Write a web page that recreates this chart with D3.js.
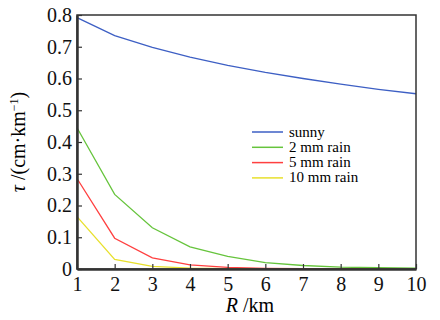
<!DOCTYPE html>
<html>
<head>
<meta charset="utf-8">
<script src="https://cdn.jsdelivr.net/npm/d3@7"></script>
<style>
  body { margin: 0; background: #fff; }
  svg text { font-family: "Liberation Serif", serif !important; }
</style>
</head>
<body>
<svg id="chart" width="440" height="320" style="font-family: 'Liberation Serif', serif"></svg>
<script>
var distances = [1, 2, 3, 4, 5, 6, 7, 8, 9, 10];
var sunny  = [0.792, 0.735, 0.698, 0.667, 0.641, 0.619, 0.600, 0.582, 0.566, 0.552];
var rain2  = [0.445, 0.235, 0.130, 0.070, 0.040, 0.020, 0.011, 0.006, 0.004, 0.003];
var rain5  = [0.285, 0.097, 0.035, 0.013, 0.005, 0.002, 0.001, 0.001, 0.000, 0.000];
var rain10 = [0.165, 0.030, 0.008, 0.003, 0.001, 0.000, 0.000, 0.000, 0.000, 0.000];
var seriesNames = ["sunny", "2 mm rain", "5 mm rain", "10 mm rain"];
var colors = ["#3d5fc4", "#66c43c", "#ff4040", "#e8e02c"];
var yTicks = [0, 0.1, 0.2, 0.3, 0.4, 0.5, 0.6, 0.7, 0.8];

var width = 440, height = 320;
var margin = {top: 15, right: 24, bottom: 51, left: 77};

var svg = d3.select("#chart");

var x = d3.scaleLinear().domain([1, 10]).range([margin.left, width - margin.right]);
var y = d3.scaleLinear().domain([0, 0.8]).range([height - margin.bottom, margin.top]);

var allSeries = [sunny, rain2, rain5, rain10];
var line = d3.line()
    .x(function(d, i) { return x(distances[i]); })
    .y(function(d) { return y(d); });

// lines, drawn back to front
for (var s = allSeries.length - 1; s >= 0; s--) {
  svg.append("path")
    .datum(allSeries[s])
    .attr("fill", "none")
    .attr("stroke", colors[s])
    .attr("stroke-width", 1.3)
    .attr("d", line);
}

// frame
svg.append("rect")
  .attr("x", x(1)).attr("y", y(0.8))
  .attr("width", x(10) - x(1)).attr("height", y(0) - y(0.8))
  .attr("fill", "none").attr("stroke", "#333").attr("stroke-width", 1.5);

var xAxis = d3.axisBottom(x).tickValues(distances).tickSizeInner(-5).tickSizeOuter(0).tickPadding(8);
var gx = svg.append("g")
  .attr("transform", "translate(0," + y(0) + ")")
  .call(xAxis)
  .attr("font-family", null)
  .attr("font-size", 20);
gx.select(".domain").attr("stroke", "#333").attr("stroke-width", 2.5);
gx.selectAll(".tick line").attr("stroke", "#333").attr("stroke-width", 1.2);
gx.selectAll("text").attr("fill", "#111");

var yAxis = d3.axisLeft(y).tickValues(yTicks).tickSizeInner(-5).tickSizeOuter(0).tickPadding(5)
  .tickFormat(function(d) { return d === 0 ? "0" : d3.format(".1f")(d); });
var gy = svg.append("g")
  .attr("transform", "translate(" + x(1) + ",0)")
  .call(yAxis)
  .attr("font-family", null)
  .attr("font-size", 20);
gy.select(".domain").attr("stroke", "#333").attr("stroke-width", 2.5);
gy.selectAll(".tick line").attr("stroke", "#333").attr("stroke-width", 1.2);
gy.selectAll("text").attr("fill", "#111");

// axis titles
var xt = svg.append("text")
  .attr("x", 250).attr("y", 312)
  .attr("text-anchor", "middle")
  .attr("font-size", 20);
xt.append("tspan").attr("font-style", "italic").text("R");
xt.append("tspan").text(" /km");

var yt = svg.append("text")
  .attr("transform", "translate(25," + ((margin.top + height - margin.bottom) / 2) + ") rotate(-90)")
  .attr("text-anchor", "middle")
  .attr("font-size", 20);
yt.append("tspan").attr("font-style", "italic").text("τ");
yt.append("tspan").text(" /(cm·km");
yt.append("tspan").attr("dy", -7).attr("font-size", 12).text("−1");
yt.append("tspan").attr("dy", 7).text(")");

// legend
var legend = svg.append("g");
seriesNames.forEach(function(name, i) {
  var ly = 132 + i * 15.3;
  legend.append("line")
    .attr("x1", 252).attr("x2", 283)
    .attr("y1", ly).attr("y2", ly)
    .attr("stroke", colors[i]).attr("stroke-width", 1.5);
  legend.append("text")
    .attr("x", 289).attr("y", ly + 4.5)
    .attr("font-size", 15)
    .text(name);
});
</script>
</body>
</html>
